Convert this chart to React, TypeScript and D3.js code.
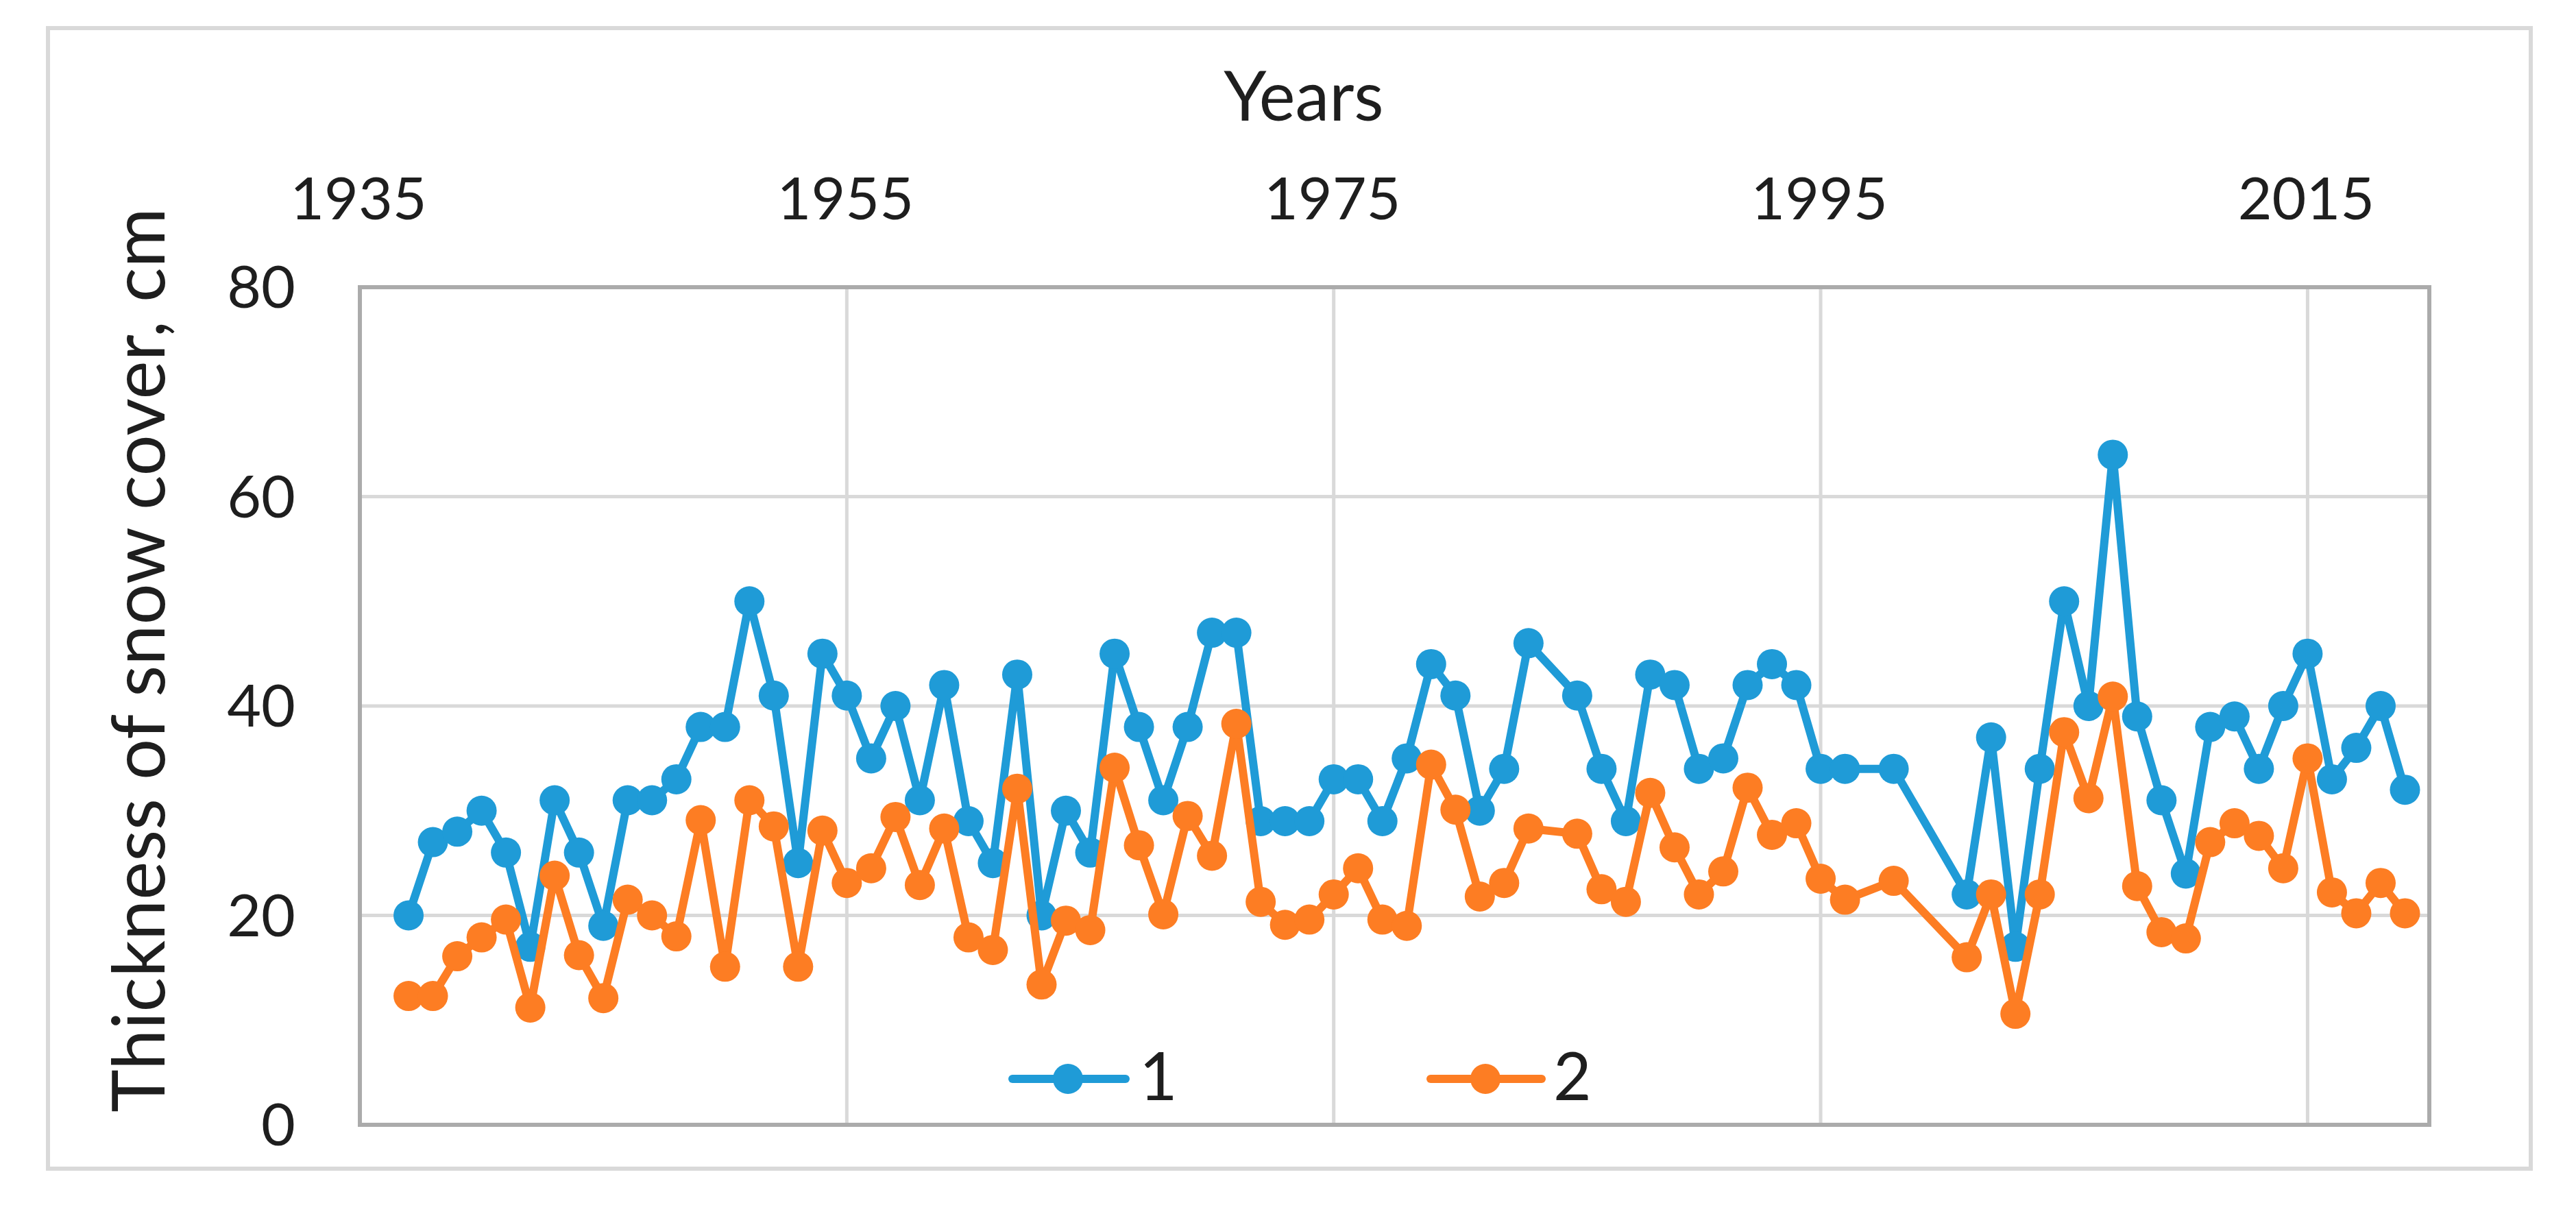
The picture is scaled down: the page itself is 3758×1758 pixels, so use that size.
import React from "react";
import * as d3 from "d3";

const years: number[] = [
  1937, 1938, 1939, 1940, 1941, 1942, 1943, 1944, 1945, 1946, 1947, 1948, 1949, 1950,
  1951, 1952, 1953, 1954, 1955, 1956, 1957, 1958, 1959, 1960, 1961, 1962, 1963, 1964,
  1965, 1966, 1967, 1968, 1969, 1970, 1971, 1972, 1973, 1974, 1975, 1976, 1977, 1978,
  1979, 1980, 1981, 1982, 1983, 1985, 1986, 1987, 1988, 1989, 1990, 1991, 1992, 1993,
  1994, 1995, 1996, 1998, 2001, 2002, 2003, 2004, 2005, 2006, 2007, 2008, 2009, 2010,
  2011, 2012, 2013, 2014, 2015, 2016, 2017, 2018, 2019,
];

const series1: number[] = [
  20, 27, 28, 30, 26, 17, 31, 26, 19, 31, 31, 33, 38, 38,
  50, 41, 25, 45, 41, 35, 40, 31, 42, 29, 25, 43, 20, 30,
  26, 45, 38, 31, 38, 47, 47, 29, 29, 29, 33, 33, 29, 35,
  44, 41, 30, 34, 46, 41, 34, 29, 43, 42, 34, 35, 42, 44,
  42, 34, 34, 34, 22, 37, 17, 34, 50, 40, 64, 39, 31, 24,
  38, 39, 34, 40, 45, 33, 36, 40, 32,
];

const series2: number[] = [
  12.3, 12.3, 16.1, 17.9, 19.6, 11.2, 23.8, 16.2, 12.1, 21.5, 20.0, 18.0, 29.1, 15.1,
  31.0, 28.5, 15.1, 28.1, 23.1, 24.5, 29.4, 22.9, 28.3, 17.9, 16.7, 32.1, 13.4, 19.5,
  18.6, 34.1, 26.7, 20.1, 29.5, 25.7, 38.3, 21.3, 19.1, 19.6, 22.0, 24.5, 19.6, 19.0,
  34.4, 30.1, 21.8, 23.1, 28.3, 27.8, 22.5, 21.3, 31.7, 26.5, 22.0, 24.2, 32.2, 27.7,
  28.8, 23.5, 21.5, 23.3, 16.0, 22.0, 10.6, 22.0, 37.5, 31.2, 40.9, 22.8, 18.4, 17.8,
  27.0, 28.8, 27.6, 24.5, 35.0, 22.2, 20.2, 23.1, 20.2,
];

const seriesNames: string[] = ["1", "2"];
const seriesColors: string[] = ["#1f9bd7", "#fd7d23"];
const xTicks: number[] = [1935, 1955, 1975, 1995, 2015];
const yTicks: number[] = [0, 20, 40, 60, 80];
const xTitle = "Years";
const yTitle = "Thickness of snow cover, cm";

const W = 3758;
const H = 1758;
const plot = { left: 525, right: 3544, top: 419, bottom: 1641 };
const FONT = "Lato, 'Open Sans', sans-serif";
const TEXT = "#1e1e1e";
const R = 22;
const LW = 12;

export default function App() {
  const x = d3.scaleLinear().domain([1935, 2020]).range([plot.left, plot.right]);
  const y = d3.scaleLinear().domain([0, 80]).range([plot.bottom, plot.top]);

  const all = [series1, series2].map((vals) =>
    years.map((yr, i) => ({ yr, v: vals[i] }))
  );
  const line = d3
    .line<{ yr: number; v: number }>()
    .x((d) => x(d.yr))
    .y((d) => y(d.v));

  const legendItems = [
    { lx0: 1477, lx1: 1642, cx: 1558, tx: 1662 },
    { lx0: 2087, lx1: 2249, cx: 2167, tx: 2266 },
  ];
  const legendY = 1574;

  return (
    <svg
      width={W}
      height={H}
      viewBox={`0 0 ${W} ${H}`}
      style={{ position: "absolute", left: 0, top: 0, background: "#fff" }}
    >
      <rect x={0} y={0} width={W} height={H} fill="#fff" />
      {/* outer frame */}
      <rect x={70} y={41} width={3622} height={1664} fill="#fff" stroke="#d9d9d9" strokeWidth={6} />

      {/* gridlines */}
      {xTicks
        .filter((t) => t > 1935)
        .map((t) => (
          <line key={"gx" + t} x1={x(t)} x2={x(t)} y1={plot.top} y2={plot.bottom} stroke="#d9d9d9" strokeWidth={5} />
        ))}
      {yTicks
        .filter((t) => t > 0 && t < 80)
        .map((t) => (
          <line key={"gy" + t} x1={plot.left} x2={plot.right} y1={y(t)} y2={y(t)} stroke="#d9d9d9" strokeWidth={5} />
        ))}

      {/* plot border */}
      <rect
        x={plot.left}
        y={plot.top}
        width={plot.right - plot.left}
        height={plot.bottom - plot.top}
        fill="none"
        stroke="#ababab"
        strokeWidth={6}
      />

      {/* series */}
      {all.map((pts, si) => (
        <g key={"s" + si}>
          <path d={line(pts) || ""} fill="none" stroke={seriesColors[si]} strokeWidth={LW} strokeLinejoin="round" />
          {pts.map((p, i) => (
            <circle key={i} cx={x(p.yr)} cy={y(p.v)} r={R} fill={seriesColors[si]} />
          ))}
        </g>
      ))}

      {/* y tick labels */}
      {yTicks.map((t) => (
        <text key={"yl" + t} x={431} y={y(t)} dy="0.35em" textAnchor="end" fontFamily={FONT} fontSize={86} fill={TEXT}>
          {t}
        </text>
      ))}

      {/* x tick labels (top) */}
      {xTicks.map((t) => (
        <text key={"xl" + t} x={x(t) - 2} y={320} textAnchor="middle" fontFamily={FONT} fontSize={86} fill={TEXT}>
          {t}
        </text>
      ))}

      {/* axis titles */}
      <text x={1902} y={176} textAnchor="middle" fontFamily={FONT} fontSize={100} fill={TEXT}>
        {xTitle}
      </text>
      <text
        transform={`translate(240, 963) rotate(-90)`}
        textAnchor="middle"
        fontFamily={FONT}
        fontSize={106}
        fill={TEXT}
      >
        {yTitle}
      </text>

      {/* legend */}
      {legendItems.map((l, i) => (
        <g key={"lg" + i}>
          <line x1={l.lx0} x2={l.lx1} y1={legendY} y2={legendY} stroke={seriesColors[i]} strokeWidth={LW} strokeLinecap="round" />
          <circle cx={l.cx} cy={legendY} r={R} fill={seriesColors[i]} />
          <text x={l.tx} y={1605} fontFamily={FONT} fontSize={96} fill={TEXT}>
            {seriesNames[i]}
          </text>
        </g>
      ))}
    </svg>
  );
}
